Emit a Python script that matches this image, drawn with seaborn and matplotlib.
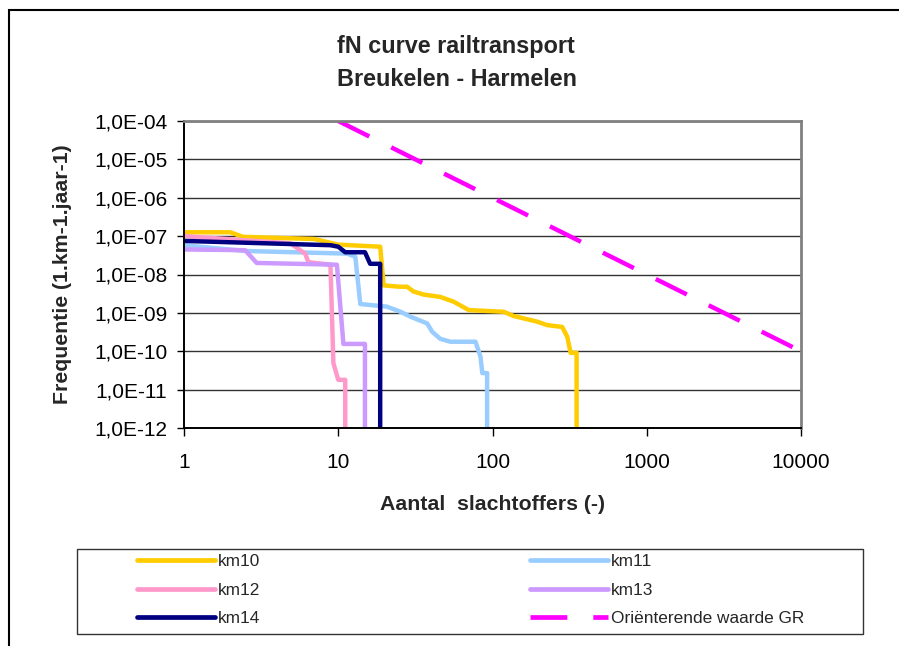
import matplotlib
matplotlib.use("Agg")
import matplotlib.pyplot as plt
from matplotlib.patches import Rectangle
from matplotlib.ticker import FixedLocator, NullLocator
import seaborn as sns

# fN curves per track kilometre: number of victims N and cumulative frequency f
km10_n = [1, 2, 2.4, 7, 10, 18.7, 19.7, 25, 27.9, 30.8, 35.8, 45.9, 56.1, 70.2, 118, 137, 195, 226, 283, 305, 321, 351, 351]
km10_f = [1.26e-7, 1.26e-7, 9.6e-8, 8.4e-8, 6.0e-8, 5.3e-8, 5.2e-9, 4.8e-9, 4.8e-9, 3.6e-9, 3.0e-9, 2.6e-9, 1.95e-9, 1.18e-9, 1.07e-9, 8.3e-10, 5.9e-10, 4.8e-10, 4.3e-10, 2.4e-10, 9.1e-11, 9.1e-11, 1e-12]

km11_n = [1, 2.5, 11.4, 12.9, 13.9, 20.7, 25.3, 29.3, 37.7, 40.7, 45.9, 53.4, 77.6, 83.6, 85.9, 92.3, 92.3]
km11_f = [5.8e-8, 4.1e-8, 3.5e-8, 2.9e-8, 1.7e-9, 1.45e-9, 1.07e-9, 8.0e-10, 5.3e-10, 3.2e-10, 2.1e-10, 1.77e-10, 1.77e-10, 7.2e-11, 2.7e-11, 2.7e-11, 1e-12]

km12_n = [1, 4.9, 6.1, 6.4, 8.9, 9.3, 10.0, 11.1, 11.1]
km12_f = [1.0e-7, 6.5e-8, 3.5e-8, 2.1e-8, 1.8e-8, 4.9e-11, 1.8e-11, 1.8e-11, 1e-12]

km13_n = [1, 2.49, 2.96, 9.8, 10.8, 14.9, 14.9]
km13_f = [4.5e-8, 4.3e-8, 2.0e-8, 1.8e-8, 1.55e-10, 1.55e-10, 1e-12]

km14_n = [1, 8.9, 10.0, 11.1, 14.9, 16.1, 18.7, 18.7]
km14_f = [7.5e-8, 5.8e-8, 5.3e-8, 3.8e-8, 3.8e-8, 1.9e-8, 1.9e-8, 1e-12]

# Orienterende waarde groepsrisico
gr_n = [10, 100, 1000, 10000]
gr_f = [1e-4, 1e-6, 1e-8, 1e-10]

x_ticks = [1, 10, 100, 1000, 10000]
x_tick_labels = ["1", "10", "100", "1000", "10000"]
y_ticks = [1e-12, 1e-11, 1e-10, 1e-9, 1e-8, 1e-7, 1e-6, 1e-5, 1e-4]
y_tick_labels = ["1,0E-12", "1,0E-11", "1,0E-10", "1,0E-09", "1,0E-08",
                 "1,0E-07", "1,0E-06", "1,0E-05", "1,0E-04"]

series = [
    ("km10", km10_n, km10_f, "#FFCC00"),
    ("km11", km11_n, km11_f, "#99CCFF"),
    ("km12", km12_n, km12_f, "#FF99CC"),
    ("km13", km13_n, km13_f, "#CC99FF"),
    ("km14", km14_n, km14_f, "#000080"),
]

sns.set_style("ticks")
plt.rcParams["font.family"] = ["Liberation Sans", "DejaVu Sans"]

W, H = 899, 646
fig = plt.figure(figsize=(W / 100, H / 100), dpi=100)
ax = fig.add_axes([184 / W, 1 - 428 / H, (801 - 184) / W, (428 - 121) / H])
ax.set_xscale("log")
ax.set_yscale("log")

handles = {}
for name, n, f, color in series:
    sns.lineplot(x=n, y=f, ax=ax, color=color, lw=3.2, sort=False,
                 estimator=None, legend=False, solid_capstyle="round")
    handles[name] = ax.lines[-1]

sns.lineplot(x=gr_n, y=gr_f, ax=ax, color="#FF00FF", lw=3.2, sort=False,
             estimator=None, legend=False, linestyle=(0, (7.8, 5.5)))
handles["Oriënterende waarde GR"] = ax.lines[-1]

ax.set_xlim(1, 10000)
ax.set_ylim(1e-12, 1e-4)
ax.xaxis.set_major_locator(FixedLocator(x_ticks))
ax.xaxis.set_minor_locator(NullLocator())
ax.set_xticklabels(x_tick_labels)
ax.yaxis.set_major_locator(FixedLocator(y_ticks))
ax.yaxis.set_minor_locator(NullLocator())
ax.set_yticklabels(y_tick_labels)

ax.yaxis.grid(True, color="#333333", lw=1)
ax.xaxis.grid(False)
for side in ("left", "bottom"):
    ax.spines[side].set_color("black")
    ax.spines[side].set_linewidth(1.4)
for side in ("top", "right"):
    ax.spines[side].set_color("#808080")
    ax.spines[side].set_linewidth(2)

ax.tick_params(axis="y", direction="out", length=5, width=1, pad=7,
               labelsize=15, colors="black")
ax.tick_params(axis="x", direction="out", length=6, width=1, pad=12,
               labelsize=15, colors="black")

ax.set_xlabel("Aantal  slachtoffers (-)", fontsize=15.3, fontweight="bold")
ax.xaxis.set_label_coords(0.5, (428 - 505) / 307)
ax.xaxis.label.set_va("center")
ax.set_ylabel("Frequentie (1.km-1.jaar-1)", fontsize=15.3, fontweight="bold")
ax.yaxis.set_label_coords((63 - 184) / 617, 0.5)
ax.yaxis.label.set_va("center")

fig.text(456 / W, 1 - 47 / H, "fN curve railtransport", ha="center",
         va="center", fontsize=16.8, fontweight="bold")
fig.text(457 / W, 1 - 80 / H, "Breukelen - Harmelen", ha="center",
         va="center", fontsize=16.8, fontweight="bold")

# outer chart frame and legend frame
fig.patches.append(Rectangle((9 / W, -0.1), 1.0, 1 - 10 / H + 0.1,
                             transform=fig.transFigure, fill=False,
                             ec="black", lw=1.5))
fig.patches.append(Rectangle((77 / W, 1 - 634 / H), 786 / W, 85 / H,
                             transform=fig.transFigure, fill=False,
                             ec="#333333", lw=1))

order = ["km10", "km12", "km14", "km11", "km13", "Oriënterende waarde GR"]
leg = fig.legend([handles[k] for k in order], order, ncol=2,
                 loc="upper left", bbox_to_anchor=(137 / W, 1 - 554 / H),
                 frameon=False, fontsize=12.4, handlelength=4.5,
                 handletextpad=0.17, columnspacing=15.7, labelspacing=0.78,
                 borderpad=0, borderaxespad=0)
for line in leg.get_lines():
    line.set_linewidth(3.4)

fig.savefig("out.png", dpi=100)
